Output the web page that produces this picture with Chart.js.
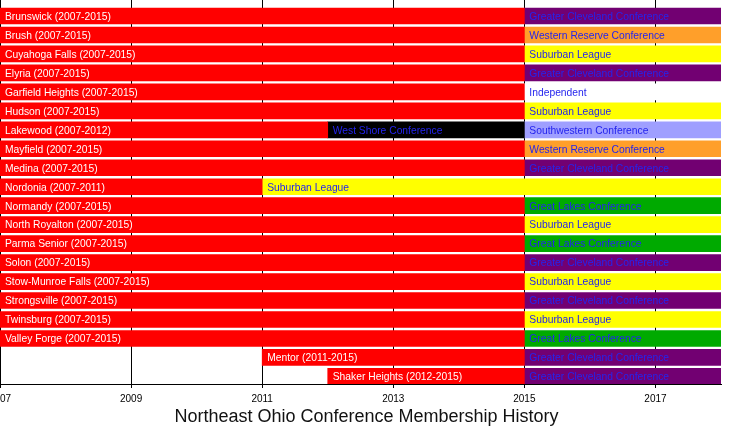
<!DOCTYPE html>
<html><head><meta charset="utf-8">
<script src="https://cdn.jsdelivr.net/npm/chart.js@4/dist/chart.umd.min.js"></script>
<style>html,body{margin:0;padding:0;background:#fff;overflow:hidden}</style>
</head><body>
<canvas id="c" width="750" height="433"></canvas>
<script>
const schools = ['Brunswick (2007-2015)','Brush (2007-2015)','Cuyahoga Falls (2007-2015)','Elyria (2007-2015)','Garfield Heights (2007-2015)','Hudson (2007-2015)','Lakewood (2007-2012)','Mayfield (2007-2015)','Medina (2007-2015)','Nordonia (2007-2011)','Normandy (2007-2015)','North Royalton (2007-2015)','Parma Senior (2007-2015)','Solon (2007-2015)','Stow-Munroe Falls (2007-2015)','Strongsville (2007-2015)','Twinsburg (2007-2015)','Valley Forge (2007-2015)','Mentor (2011-2015)','Shaker Heights (2012-2015)'];
const neocStart = [2007,2007,2007,2007,2007,2007,2007,2007,2007,2007,2007,2007,2007,2007,2007,2007,2007,2007,2011,2012];
const neocEnd   = [2015,2015,2015,2015,2015,2015,2012,2015,2015,2011,2015,2015,2015,2015,2015,2015,2015,2015,2015,2015];
const nextConf  = ['Greater Cleveland Conference','Western Reserve Conference','Suburban League','Greater Cleveland Conference','Independent','Suburban League','West Shore Conference','Western Reserve Conference','Greater Cleveland Conference','Suburban League','Great Lakes Conference','Suburban League','Great Lakes Conference','Greater Cleveland Conference','Suburban League','Greater Cleveland Conference','Suburban League','Great Lakes Conference','Greater Cleveland Conference','Greater Cleveland Conference'];
const nextStart = [2015,2015,2015,2015,2015,2015,2012,2015,2015,2011,2015,2015,2015,2015,2015,2015,2015,2015,2015,2015];
const nextEnd   = [2018,2018,2018,2018,2018,2018,2015,2018,2018,2018,2018,2018,2018,2018,2018,2018,2018,2018,2018,2018];
const thirdConf  = [null,null,null,null,null,null,'Southwestern Conference',null,null,null,null,null,null,null,null,null,null,null,null,null];
const thirdStart = [null,null,null,null,null,null,2015,null,null,null,null,null,null,null,null,null,null,null,null,null];
const thirdEnd   = [null,null,null,null,null,null,2018,null,null,null,null,null,null,null,null,null,null,null,null,null];
const tickYears = [2007,2009,2011,2013,2015,2017];
const axisMin = 2007, axisMax = 2018;
const chartTitle = 'Northeast Ohio Conference Membership History';

const confColors = {
  'Greater Cleveland Conference':'#720072',
  'Western Reserve Conference':'#ff9f2a',
  'Suburban League':'#ffff00',
  'Independent':'#ffffff',
  'West Shore Conference':'#000000',
  'Southwestern Conference':'#9f9fff',
  'Great Lakes Conference':'#00aa00'
};
const FONT = "'Liberation Sans', Arial, sans-serif";
const LABEL_BLUE = '#2424ee';

function rowsFor(conf, st, en){
  const data=[], texts=[], colors=[];
  conf.forEach((c,i)=>{ if(c!==null){ data.push({x:[st[i],en[i]], y:i}); texts.push(c); colors.push(confColors[c]); } });
  return {data, texts, colors};
}
const nx = rowsFor(nextConf, nextStart, nextEnd);
const th = rowsFor(thirdConf, thirdStart, thirdEnd);

const barLabels = {
  id:'barLabels',
  afterDatasetsDraw(chart){
    const ctx = chart.ctx;
    ctx.save();
    ctx.font = '10.3px ' + FONT;
    ctx.textBaseline = 'middle';
    ctx.textAlign = 'left';
    chart.data.datasets.forEach((ds,di)=>{
      const meta = chart.getDatasetMeta(di);
      meta.data.forEach((el,j)=>{
        const p = el.getProps(['x','y','base'], true);
        const left = Math.min(p.x, p.base);
        ctx.fillStyle = ds.textColor;
        ctx.fillText(ds.texts[j], left + 5, p.y + 1);
      });
    });
    ctx.restore();
  }
};

new Chart(document.getElementById('c'), {
  type:'bar',
  data:{
    datasets:[
      { data: schools.map((s,i)=>({x:[neocStart[i], neocEnd[i]], y:i})), texts: schools, textColor:'#ffffff', backgroundColor:'#ff0000', grouped:false },
      { data: nx.data, texts: nx.texts, textColor: LABEL_BLUE, backgroundColor: nx.colors, grouped:false },
      { data: th.data, texts: th.texts, textColor: LABEL_BLUE, backgroundColor: th.colors, grouped:false }
    ]
  },
  options:{
    indexAxis:'y',
    responsive:false,
    animation:false,
    devicePixelRatio:1,
    datasets:{ bar:{ barThickness:16, borderWidth:0 } },
    layout:{ padding:{ left:0, right:17, top:0, bottom:5 } },
    plugins:{
      legend:{display:false},
      tooltip:{enabled:false},
      title:{ display:true, text:chartTitle, position:'bottom', color:'#111', font:{family:FONT, size:18, weight:'normal'}, padding:{top:0,bottom:0} }
    },
    scales:{
      x:{
        type:'linear', min:axisMin, max:axisMax,
        afterBuildTicks: s => { s.ticks = tickYears.map(v=>({value:v})); },
        afterFit: s => { s.paddingLeft = 0; s.paddingRight = 29; s.height = 22.4; },
        grid:{ color:'#000', lineWidth:1, tickLength:4, drawTicks:true, offset:false },
        border:{ color:'#000', width:1 },
        ticks:{ color:'#000', font:{family:FONT, size:10}, padding:5, maxRotation:0, autoSkip:false, callback: v => String(v) }
      },
      y:{ type:'linear', reverse:true, offset:false, min:-0.843, max:19.40, display:false, grid:{offset:false} }
    }
  },
  plugins:[barLabels]
});
</script>
</body></html>
